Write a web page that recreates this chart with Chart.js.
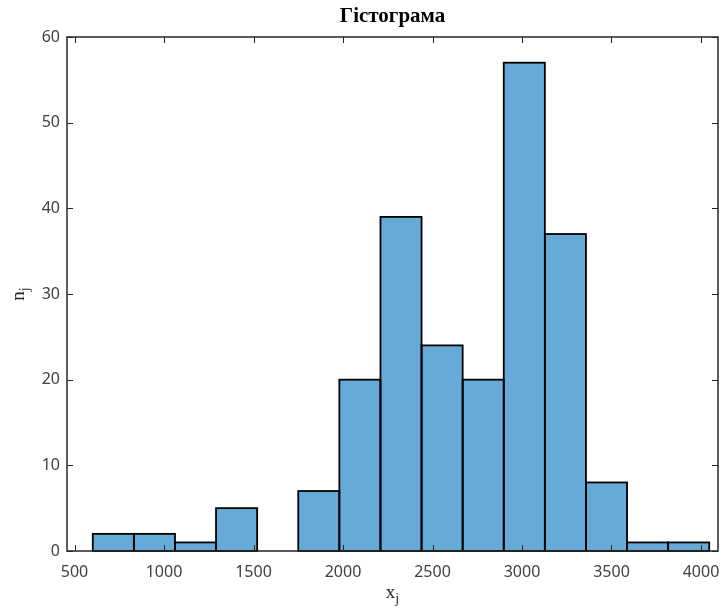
<!DOCTYPE html>
<html>
<head>
<meta charset="utf-8">
<script src="https://cdn.jsdelivr.net/npm/chart.js@4/dist/chart.umd.min.js"></script>
<style>
  body { margin: 0; background: #fff; }
  #wrap { width: 722px; height: 612px; }
</style>
</head>
<body>
<div id="wrap"><canvas id="hist"></canvas></div>
<script>
// bin centres (width ~229.6) and counts
const binCenters = [716.8, 946.4, 1176.0, 1405.6, 1635.2, 1864.8, 2094.4, 2324.0,
  2553.6, 2783.2, 3012.8, 3242.4, 3472.0, 3701.6, 3931.2];
const counts = [2, 2, 1, 5, 0, 7, 20, 39, 24, 20, 57, 37, 8, 1, 1];
const xTicks = [500, 1000, 1500, 2000, 2500, 3000, 3500, 4000];
const yTicks = [0, 10, 20, 30, 40, 50, 60];

const axisColor = "#262626";
const labelColor = "#404040";

const boxPlugin = {
  id: "box",
  afterDatasetsDraw(chart) {
    const { ctx, chartArea: a, scales } = chart;
    ctx.save();

    // bar outlines, centred on the bin edges like matlab
    ctx.strokeStyle = "#000";
    ctx.lineWidth = 1.8;
    chart.getDatasetMeta(0).data.forEach((bar, i) => {
      if (!counts[i]) return;
      const { x, y, base, width } = bar.getProps(["x", "y", "base", "width"], true);
      ctx.strokeRect(x - width / 2, y, width, base - y);
    });

    ctx.strokeStyle = axisColor;
    ctx.lineWidth = 1.5;
    ctx.strokeRect(a.left, a.top, a.width, a.height);
    ctx.beginPath();
    scales.x.ticks.forEach((t) => {
      const px = Math.round(scales.x.getPixelForValue(t.value)) + 0.5;
      ctx.moveTo(px, a.bottom);
      ctx.lineTo(px, a.bottom - 6);
      ctx.moveTo(px, a.top);
      ctx.lineTo(px, a.top + 6);
    });
    scales.y.ticks.forEach((t) => {
      const py = Math.round(scales.y.getPixelForValue(t.value)) + 0.5;
      ctx.moveTo(a.left, py);
      ctx.lineTo(a.left + 6, py);
      ctx.moveTo(a.right, py);
      ctx.lineTo(a.right - 6, py);
    });
    ctx.lineWidth = 1;
    ctx.stroke();

    // title
    const cx = (a.left + a.right) / 2;
    ctx.fillStyle = "#000";
    ctx.textAlign = "center";
    ctx.textBaseline = "middle";
    ctx.font = "bold 21px 'Liberation Serif', serif";
    ctx.fillText("Гістограма", cx, 17);

    // axis labels with subscript j
    const sub = (main, x0, y0) => {
      ctx.font = "19px 'Liberation Serif', serif";
      const w1 = ctx.measureText(main).width;
      ctx.font = "14px 'Liberation Serif', serif";
      const w2 = ctx.measureText("j").width;
      const start = x0 - (w1 + w2) / 2;
      ctx.textAlign = "left";
      ctx.textBaseline = "alphabetic";
      ctx.fillStyle = "#262626";
      ctx.font = "19px 'Liberation Serif', serif";
      ctx.fillText(main, start, y0);
      ctx.font = "14px 'Liberation Serif', serif";
      ctx.fillText("j", start + w1, y0 + 5);
    };
    sub("x", cx, 598);
    ctx.save();
    ctx.translate(24, (a.top + a.bottom) / 2);
    ctx.rotate(-Math.PI / 2);
    sub("n", 0, 0);
    ctx.restore();
    ctx.restore();
  },
};

new Chart(document.getElementById("hist"), {
  type: "bar",
  data: {
    datasets: [
      {
        data: binCenters.map((x, i) => ({ x, y: counts[i] })),
        backgroundColor: "rgb(102, 170, 215)",
        borderWidth: 0,
        barPercentage: 1,
        categoryPercentage: 1,
      },
    ],
  },
  options: {
    responsive: true,
    maintainAspectRatio: false,
    animation: false,
    layout: { padding: { top: 37, right: 4, left: 0, bottom: 0 } },
    plugins: { legend: { display: false }, tooltip: { enabled: false } },
    scales: {
      x: {
        type: "linear",
        offset: false,
        min: 458,
        max: 4095,
        grid: { display: false, drawTicks: false },
        border: { display: false },
        afterBuildTicks: (s) => { s.ticks = xTicks.map((v) => ({ value: v })); },
        afterFit: (s) => { s.height = 61; s.paddingLeft = 0; s.paddingRight = 0; },
        ticks: {
          color: labelColor,
          padding: 12,
          maxRotation: 0,
          callback: (v) => String(v),
          font: { family: "'Noto Sans', sans-serif", size: 16 },
        },
      },
      y: {
        min: 0,
        max: 60,
        grid: { display: false, drawTicks: false },
        border: { display: false },
        afterBuildTicks: (s) => { s.ticks = yTicks.map((v) => ({ value: v })); },
        afterFit: (s) => { s.width = 67; s.paddingTop = 0; s.paddingBottom = 0; },
        ticks: {
          color: labelColor,
          padding: 7,
          callback: (v) => String(v),
          font: { family: "'Noto Sans', sans-serif", size: 16 },
        },
      },
    },
  },
  plugins: [boxPlugin],
});
</script>
</body>
</html>
